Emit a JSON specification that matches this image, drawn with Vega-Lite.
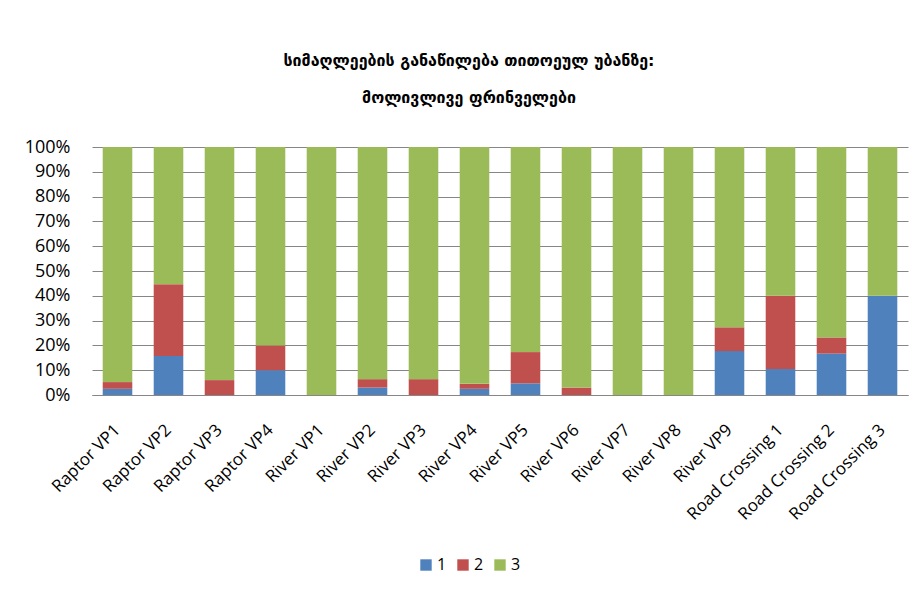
{
  "$schema": "https://vega.github.io/schema/vega-lite/v6.json",
  "width": 816,
  "height": 248,
  "autosize": {"type": "none"},
  "padding": {"left": 92, "top": 147, "right": 12, "bottom": 202},
  "background": "white",
  "title": {
    "text": ["სიმაღლეების განაწილება თითოეულ უბანზე:", "მოლივლივე ფრინველები"],
    "anchor": "middle",
    "frame": "group",
    "font": "DejaVu Sans",
    "fontSize": 16,
    "fontWeight": "bold",
    "color": "#000000",
    "lineHeight": 37,
    "offset": 32,
    "dx": -31
  },
  "data": {
    "values": [
      {"site": "Raptor VP1", "h": "1", "v": 2.5}, {"site": "Raptor VP1", "h": "2", "v": 2.7}, {"site": "Raptor VP1", "h": "3", "v": 94.8},
      {"site": "Raptor VP2", "h": "1", "v": 15.7}, {"site": "Raptor VP2", "h": "2", "v": 29}, {"site": "Raptor VP2", "h": "3", "v": 55.3},
      {"site": "Raptor VP3", "h": "1", "v": 0}, {"site": "Raptor VP3", "h": "2", "v": 6}, {"site": "Raptor VP3", "h": "3", "v": 94},
      {"site": "Raptor VP4", "h": "1", "v": 10}, {"site": "Raptor VP4", "h": "2", "v": 10}, {"site": "Raptor VP4", "h": "3", "v": 80},
      {"site": "River VP1", "h": "1", "v": 0}, {"site": "River VP1", "h": "2", "v": 0}, {"site": "River VP1", "h": "3", "v": 100},
      {"site": "River VP2", "h": "1", "v": 3}, {"site": "River VP2", "h": "2", "v": 3.4}, {"site": "River VP2", "h": "3", "v": 93.6},
      {"site": "River VP3", "h": "1", "v": 0}, {"site": "River VP3", "h": "2", "v": 6.4}, {"site": "River VP3", "h": "3", "v": 93.6},
      {"site": "River VP4", "h": "1", "v": 2.5}, {"site": "River VP4", "h": "2", "v": 2}, {"site": "River VP4", "h": "3", "v": 95.5},
      {"site": "River VP5", "h": "1", "v": 4.7}, {"site": "River VP5", "h": "2", "v": 12.6}, {"site": "River VP5", "h": "3", "v": 82.7},
      {"site": "River VP6", "h": "1", "v": 0}, {"site": "River VP6", "h": "2", "v": 3}, {"site": "River VP6", "h": "3", "v": 97},
      {"site": "River VP7", "h": "1", "v": 0}, {"site": "River VP7", "h": "2", "v": 0}, {"site": "River VP7", "h": "3", "v": 100},
      {"site": "River VP8", "h": "1", "v": 0}, {"site": "River VP8", "h": "2", "v": 0}, {"site": "River VP8", "h": "3", "v": 100},
      {"site": "River VP9", "h": "1", "v": 17.7}, {"site": "River VP9", "h": "2", "v": 9.6}, {"site": "River VP9", "h": "3", "v": 72.7},
      {"site": "Road Crossing 1", "h": "1", "v": 10.5}, {"site": "Road Crossing 1", "h": "2", "v": 29.5}, {"site": "Road Crossing 1", "h": "3", "v": 60},
      {"site": "Road Crossing 2", "h": "1", "v": 16.7}, {"site": "Road Crossing 2", "h": "2", "v": 6.5}, {"site": "Road Crossing 2", "h": "3", "v": 76.8},
      {"site": "Road Crossing 3", "h": "1", "v": 40}, {"site": "Road Crossing 3", "h": "2", "v": 0}, {"site": "Road Crossing 3", "h": "3", "v": 60}
    ]
  },
  "mark": {"type": "bar"},
  "encoding": {
    "x": {
      "field": "site",
      "type": "nominal",
      "sort": null,
      "scale": {"paddingInner": 0.42, "paddingOuter": 0.21},
      "axis": {
        "title": null,
        "labelAngle": -45,
        "labelAlign": "right",
        "labelBaseline": "middle",
        "labelFont": "Open Sans",
        "labelFontSize": 17,
        "labelColor": "#000000",
        "labelPadding": 32,
        "ticks": false,
        "domainColor": "#868686",
        "grid": false
      }
    },
    "y": {
      "field": "v",
      "type": "quantitative",
      "stack": "normalize",
      "scale": {"domain": [0, 1]},
      "axis": {
        "title": null,
        "format": ".0%",
        "values": [0, 0.1, 0.2, 0.3, 0.4, 0.5, 0.6, 0.7, 0.8, 0.9, 1],
        "labelFont": "Open Sans",
        "labelFontSize": 18,
        "labelColor": "#000000",
        "labelPadding": 22,
        "ticks": false,
        "domain": false,
        "grid": true,
        "gridColor": "#868686",
        "gridWidth": 1
      }
    },
    "color": {
      "field": "h",
      "type": "nominal",
      "scale": {"domain": ["1", "2", "3"], "range": ["#4F81BD", "#C0504D", "#9BBB59"]},
      "legend": {
        "title": null,
        "orient": "none",
        "direction": "horizontal",
        "legendX": 326,
        "legendY": 410,
        "symbolType": "square",
        "symbolSize": 130,
        "symbolStrokeWidth": 0,
        "labelFont": "Open Sans",
        "labelFontSize": 16,
        "labelColor": "#000000",
        "columnPadding": 8,
        "labelOffset": 3
      }
    },
    "order": {"field": "h", "sort": "ascending"}
  },
  "config": {
    "view": {"stroke": null}
  }
}
